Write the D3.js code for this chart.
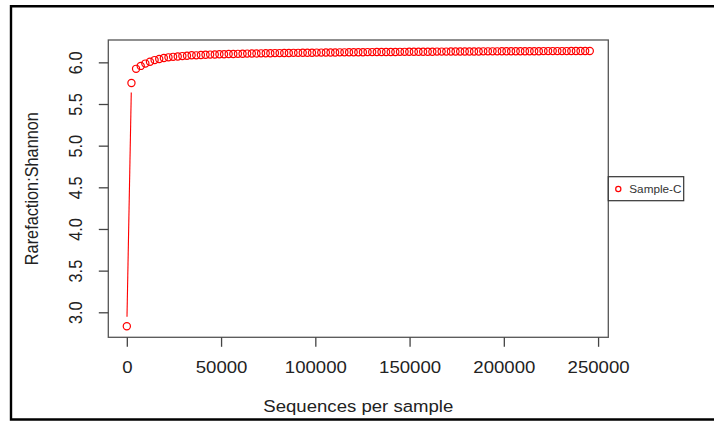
<!DOCTYPE html>
<html>
<head>
<meta charset="utf-8">
<script src="https://cdn.jsdelivr.net/npm/d3@7"></script>
<style>
  html, body { margin: 0; padding: 0; background: #fff; }
  svg { display: block; font-family: "Liberation Sans", Arial, Helvetica, sans-serif; }
</style>
</head>
<body>
<svg id="chart" width="714" height="423"></svg>
<script>
// Rarefaction depths (sequences per sample)
const depths = [
  1, 2456, 4912, 7368, 9824, 12280, 14736, 17192, 19648, 22104, 24560,
  27016, 29472, 31928, 34384, 36840, 39296, 41752, 44208, 46664, 49120,
  51576, 54032, 56488, 58944, 61400, 63856, 66312, 68768, 71224, 73680,
  76136, 78592, 81048, 83504, 85960, 88416, 90872, 93328, 95784, 98240,
  100696, 103152, 105608, 108064, 110520, 112976, 115432, 117888, 120344, 122800,
  125256, 127712, 130168, 132624, 135080, 137536, 139992, 142448, 144904, 147360,
  149816, 152272, 154728, 157184, 159640, 162096, 164552, 167008, 169464, 171920,
  174376, 176832, 179288, 181744, 184200, 186656, 189112, 191568, 194024, 196480,
  198936, 201392, 203848, 206304, 208760, 211216, 213672, 216128, 218584, 221040,
  223496, 225952, 228408, 230864, 233320, 235776, 238232, 240688, 243144, 245600
];

// Shannon index at each depth for Sample-C
const shannon = [
  2.832, 5.752, 5.922, 5.957, 5.985, 6.008, 6.027, 6.041, 6.052, 6.060, 6.066,
  6.071, 6.075, 6.079, 6.085, 6.084, 6.088, 6.091, 6.093, 6.095, 6.097,
  6.098, 6.100, 6.101, 6.102, 6.104, 6.105, 6.106, 6.107, 6.108, 6.109,
  6.110, 6.111, 6.111, 6.112, 6.113, 6.114, 6.114, 6.115, 6.116, 6.116,
  6.117, 6.117, 6.118, 6.118, 6.119, 6.120, 6.120, 6.121, 6.121, 6.122,
  6.122, 6.123, 6.123, 6.124, 6.124, 6.125, 6.125, 6.125, 6.126, 6.126,
  6.127, 6.127, 6.127, 6.128, 6.128, 6.128, 6.129, 6.129, 6.129, 6.130,
  6.130, 6.130, 6.131, 6.131, 6.131, 6.131, 6.132, 6.132, 6.132, 6.132,
  6.133, 6.133, 6.133, 6.133, 6.134, 6.134, 6.134, 6.134, 6.134, 6.135,
  6.135, 6.135, 6.135, 6.135, 6.135, 6.136, 6.136, 6.136, 6.136, 6.136
];

const xTickValues = [0, 50000, 100000, 150000, 200000, 250000];
const yTickValues = [3.0, 3.5, 4.0, 4.5, 5.0, 5.5, 6.0];
const seriesName = "Sample-C";
const xTitle = "Sequences per sample";
const yTitle = "Rarefaction:Shannon";

const svg = d3.select("#chart");
const W = 714, H = 423;
const plot = { left: 108.3, right: 608.3, top: 40, bottom: 337.3 };
const stretch = 1.14;   // text is drawn slightly wide
const red = "#ff0000";
const ink = "#222";

// outer frame (open on the right)
svg.append("rect").attr("width", W).attr("height", H).attr("fill", "#fff");
svg.append("path")
  .attr("d", `M${W},6.2 H11 V419.5 H${W}`)
  .attr("fill", "none").attr("stroke", "#000").attr("stroke-width", 2.4);

// scales padded 4% on each side of the data range
function padded(ext) { const p = (ext[1] - ext[0]) * 0.04; return [ext[0] - p, ext[1] + p]; }
const x = d3.scaleLinear().domain(padded(d3.extent(depths))).range([plot.left, plot.right]);
const y = d3.scaleLinear().domain(padded(d3.extent(shannon))).range([plot.bottom, plot.top]);

const pts = depths.map((d, i) => ({ x: x(d), y: y(shannon[i]) }));

// connecting segments with a gap around each point marker
const gap = 9.5;
const segs = svg.append("g").attr("stroke", red).attr("stroke-width", 1.1).attr("fill", "none");
for (let i = 1; i < pts.length; i++) {
  const a = pts[i - 1], b = pts[i];
  const dx = b.x - a.x, dy = b.y - a.y, len = Math.hypot(dx, dy);
  if (len <= 2 * gap) continue;
  const ux = dx / len, uy = dy / len;
  segs.append("line")
    .attr("x1", a.x + ux * gap).attr("y1", a.y + uy * gap)
    .attr("x2", b.x - ux * gap).attr("y2", b.y - uy * gap);
}

// point markers
svg.append("g").selectAll("circle").data(pts).join("circle")
  .attr("cx", d => d.x).attr("cy", d => d.y).attr("r", 3.6)
  .attr("fill", "none").attr("stroke", red).attr("stroke-width", 1.2);

// plot box
svg.append("rect")
  .attr("x", plot.left).attr("y", plot.top)
  .attr("width", plot.right - plot.left).attr("height", plot.bottom - plot.top)
  .attr("fill", "none").attr("stroke", "#555").attr("stroke-width", 1.3);

// x axis
const gx = svg.append("g").attr("transform", `translate(0,${plot.bottom})`)
  .call(d3.axisBottom(x).tickValues(xTickValues).tickFormat(d3.format("d")).tickSize(9.5).tickSizeOuter(0));
gx.select(".domain").remove();
gx.selectAll(".tick line").attr("stroke", "#444").attr("stroke-width", 1.3);
gx.selectAll(".tick text")
  .attr("y", 36).attr("dy", null)
  .attr("transform", `scale(${stretch},1)`)
  .attr("fill", ink).style("font-size", "16.3px").style("font-family", "inherit");

// y axis
const gy = svg.append("g").attr("transform", `translate(${plot.left},0)`)
  .call(d3.axisLeft(y).tickValues(yTickValues).tickFormat(d3.format(".1f")).tickSize(9.5).tickSizeOuter(0));
gy.select(".domain").remove();
gy.selectAll(".tick line").attr("stroke", "#444").attr("stroke-width", 1.3);
gy.selectAll(".tick text")
  .attr("x", 0).attr("dy", null).attr("text-anchor", "middle")
  .attr("transform", `translate(-26.6,0) scale(${stretch},1) rotate(-90)`)
  .attr("fill", ink).style("font-size", "16.3px").style("font-family", "inherit");

// axis titles
svg.append("text")
  .attr("transform", `translate(${(plot.left + plot.right) / 2},412) scale(${stretch},1)`)
  .attr("text-anchor", "middle").attr("fill", ink).style("font-size", "16.3px")
  .text(xTitle);
svg.append("text")
  .attr("transform", `translate(38,${(plot.top + plot.bottom) / 2}) scale(${stretch},1) rotate(-90)`)
  .attr("text-anchor", "middle").attr("fill", ink).style("font-size", "16.3px")
  .text(yTitle);

// legend
const lg = svg.append("g").attr("transform", "translate(608.3,176.7)");
lg.append("rect").attr("width", 75.4).attr("height", 24)
  .attr("fill", "#fff").attr("stroke", "#333").attr("stroke-width", 1.2);
lg.append("circle").attr("cx", 10).attr("cy", 12.3).attr("r", 2.6)
  .attr("fill", "none").attr("stroke", red).attr("stroke-width", 1.2);
lg.append("text")
  .attr("transform", `translate(21,16.1) scale(${stretch},1)`)
  .attr("fill", "#333").style("font-size", "10.3px")
  .text(seriesName);
</script>
</body>
</html>
